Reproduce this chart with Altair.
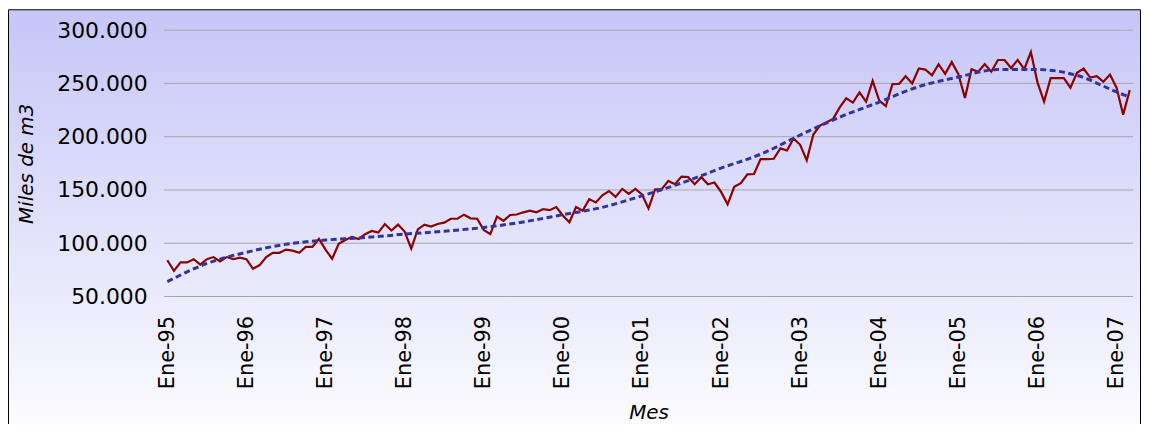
import altair as alt
import pandas as pd

# Monthly values (miles de m3, in thousands), Ene-95 .. Mar-07
values_k = [
    84, 74, 82, 82, 85, 80, 85, 87, 83, 87, 85, 86.5,
    85, 76, 79.5, 87, 91, 91, 94, 93, 91, 96.5, 96.5, 104,
    94, 85.4, 99.4, 103, 106, 104, 108.5, 111.5, 110, 118, 112, 117.5,
    111, 95, 113, 117.5, 115.6, 118, 119.3, 123, 123, 126.8, 123.4, 123,
    112.5, 108.5, 125, 121, 126.5, 127, 129, 130.5, 129, 132, 131, 134,
    126, 119.7, 134, 130.5, 141.4, 138.3, 145, 149, 143.5, 151, 146.4, 151,
    145.8, 132.7, 150.7, 150.8, 158.5, 155.4, 162.6, 162.2, 155.4, 162, 155.4, 157,
    148.2, 136.5, 153, 156.3, 164.7, 165, 179, 179, 179.3, 189, 187, 198.3,
    192.4, 177.8, 202, 210.4, 213.5, 216.7, 227.5, 236, 232, 241.5, 233, 252.4,
    233.8, 228.8, 249.3, 249.5, 256.8, 250, 264, 263, 257.7, 268, 259, 270,
    258.7, 236.3, 263.3, 261, 268, 261, 272, 272, 264.5, 272, 263.3, 279.5,
    251, 233, 255, 255, 255, 246, 260, 264, 255.5, 256.8, 251.5, 258.3,
    246, 220.7, 243.7,
]

# Trend line (month index, thousands)
trend_months = [0, 6, 12, 18, 24, 30, 36, 42, 48, 54, 60, 66, 72, 78, 84,
                90, 96, 102, 108, 114, 120, 126, 132, 138, 144, 146]
trend_k = [64, 81, 91.5, 99, 103, 105.3, 108.5, 111.3, 114.8, 120, 126.8, 133.7,
           144.5, 156.5, 170.5, 183.5, 201.5, 218.3, 232.5, 247, 256, 263, 263,
           257.5, 242, 237]

tick_labels = ["Ene-95", "Ene-96", "Ene-97", "Ene-98", "Ene-99", "Ene-00", "Ene-01",
               "Ene-02", "Ene-03", "Ene-04", "Ene-05", "Ene-06", "Ene-07"]
tick_months = [0, 12, 24, 36, 48, 60, 72, 84, 96, 108, 120, 132, 144]
grid_values = [50000, 100000, 150000, 200000, 250000, 300000]

W, H = 975, 268
PL, PT, PR, PB = 157, 21, 8, 127

df = pd.DataFrame({"m": list(range(len(values_k))), "v": [v * 1000 for v in values_k]})
tdf = pd.DataFrame({"m": trend_months, "v": [v * 1000 for v in trend_k]})
gdf = pd.DataFrame({"g": grid_values})
one = pd.DataFrame({"a": [0]})

xscale = alt.Scale(domain=[-0.5, len(values_k) - 0.5], nice=False, zero=False)
yscale = alt.Scale(domain=[50000, 300000], nice=False, zero=False)

label_arr = "[" + ",".join(f"'{l}'" for l in tick_labels) + "]"

xaxis = alt.Axis(
    values=tick_months,
    labelExpr=f"{label_arr}[round(datum.value/12)]",
    labelAngle=270, labelAlign="right", labelBaseline="middle",
    labelFont="DejaVu Sans", labelFontSize=21, labelColor="#000000",
    labelPadding=19, ticks=False, domain=False, grid=False, zindex=2,
    title="Mes", titleFont="DejaVu Sans", titleFontStyle="italic",
    titleFontWeight="normal", titleFontSize=20, titleColor="#000000",
    titleX=W / 2, titleY=117, titleAlign="center", titleBaseline="middle",
)
yaxis = alt.Axis(
    values=grid_values,
    labelExpr="replace(format(datum.value, ','), ',', '.')",
    labelFont="DejaVu Sans", labelFontSize=22, labelColor="#000000",
    labelPadding=17, ticks=False, domain=False, grid=False, zindex=2,
    title="Miles de m3", titleFont="DejaVu Sans", titleFontStyle="italic",
    titleFontWeight="normal", titleFontSize=20, titleColor="#000000",
    titleX=-138, titleY=H / 2, titleAngle=270, titleAlign="center",
    titleBaseline="middle",
)

bg = alt.Chart(one).mark_rect(
    fill=alt.Gradient(
        gradient="linear", x1=0, y1=0, x2=0, y2=1,
        stops=[alt.GradientStop(offset=0, color="#c6c6f8"),
               alt.GradientStop(offset=1, color="#ffffff")],
    ),
    stroke="#000000", strokeWidth=1,
).encode(
    x=alt.value(-PL + 0.5), x2=alt.value(W + PR - 0.5),
    y=alt.value(-PT + 0.5), y2=alt.value(H + PB + 30),
)

grid = alt.Chart(gdf).mark_rule(color="#a6a6a6", strokeWidth=1).encode(
    y=alt.Y("g:Q", scale=yscale, axis=yaxis),
)

line = alt.Chart(df).mark_line(color="#8b0000", strokeWidth=2.2).encode(
    x=alt.X("m:Q", scale=xscale, axis=xaxis),
    y=alt.Y("v:Q", scale=yscale, axis=yaxis),
)

trend = alt.Chart(tdf).mark_line(
    color="#333399", strokeWidth=3, strokeDash=[6, 3.5], interpolate="monotone"
).encode(
    x=alt.X("m:Q", scale=xscale, axis=xaxis),
    y=alt.Y("v:Q", scale=yscale, axis=yaxis),
)

chart = alt.layer(bg, grid, line, trend).properties(
    width=W, height=H,
    padding={"left": PL, "top": PT, "right": PR, "bottom": PB},
    autosize=alt.AutoSizeParams(type="none"),
).configure_view(stroke=None)

chart.save("out.html", embed_options={"renderer": "svg", "actions": False})
